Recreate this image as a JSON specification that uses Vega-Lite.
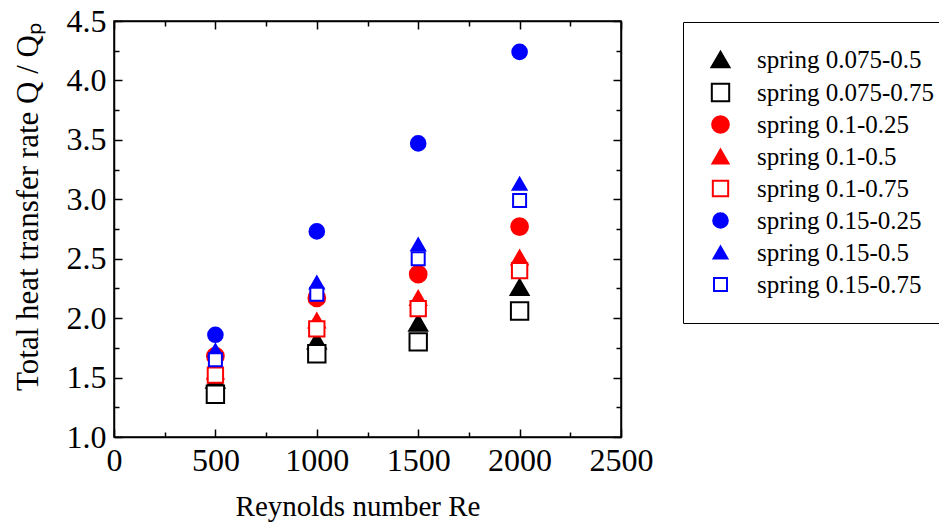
{
  "$schema": "https://vega.github.io/schema/vega-lite/v6.json",
  "autosize": {"type": "none"},
  "width": 507,
  "height": 416,
  "padding": {"left": 114, "top": 21, "right": 318, "bottom": 86},
  "background": "white",
  "config": {
    "view": {"stroke": "black", "strokeWidth": 1.5},
    "font": "Liberation Serif",
    "axis": {
      "grid": false,
      "domainColor": "black",
      "domainWidth": 1.5,
      "tickColor": "black",
      "tickWidth": 1.5,
      "labelColor": "black",
      "titleColor": "black",
      "labelFont": "Liberation Serif",
      "titleFont": "Liberation Serif",
      "labelFontSize": 32,
      "titleFontSize": 29,
      "titleFontWeight": "normal"
    }
  },
  "data": {
    "values": [
      {"Re": 500, "Q": 1.48, "series": "spring 0.075-0.5"},
      {"Re": 1000, "Q": 1.81, "series": "spring 0.075-0.5"},
      {"Re": 1500, "Q": 1.96, "series": "spring 0.075-0.5"},
      {"Re": 2000, "Q": 2.26, "series": "spring 0.075-0.5"},
      {"Re": 500, "Q": 1.36, "series": "spring 0.075-0.75"},
      {"Re": 1000, "Q": 1.70, "series": "spring 0.075-0.75"},
      {"Re": 1500, "Q": 1.80, "series": "spring 0.075-0.75"},
      {"Re": 2000, "Q": 2.06, "series": "spring 0.075-0.75"},
      {"Re": 500, "Q": 1.68, "series": "spring 0.1-0.25"},
      {"Re": 1000, "Q": 2.17, "series": "spring 0.1-0.25"},
      {"Re": 1500, "Q": 2.37, "series": "spring 0.1-0.25"},
      {"Re": 2000, "Q": 2.77, "series": "spring 0.1-0.25"},
      {"Re": 500, "Q": 1.55, "series": "spring 0.1-0.5"},
      {"Re": 1000, "Q": 1.98, "series": "spring 0.1-0.5"},
      {"Re": 1500, "Q": 2.17, "series": "spring 0.1-0.5"},
      {"Re": 2000, "Q": 2.51, "series": "spring 0.1-0.5"},
      {"Re": 500, "Q": 1.52, "series": "spring 0.1-0.75"},
      {"Re": 1000, "Q": 1.91, "series": "spring 0.1-0.75"},
      {"Re": 1500, "Q": 2.08, "series": "spring 0.1-0.75"},
      {"Re": 2000, "Q": 2.40, "series": "spring 0.1-0.75"},
      {"Re": 500, "Q": 1.86, "series": "spring 0.15-0.25"},
      {"Re": 1000, "Q": 2.73, "series": "spring 0.15-0.25"},
      {"Re": 1500, "Q": 3.47, "series": "spring 0.15-0.25"},
      {"Re": 2000, "Q": 4.24, "series": "spring 0.15-0.25"},
      {"Re": 500, "Q": 1.73, "series": "spring 0.15-0.5"},
      {"Re": 1000, "Q": 2.30, "series": "spring 0.15-0.5"},
      {"Re": 1500, "Q": 2.62, "series": "spring 0.15-0.5"},
      {"Re": 2000, "Q": 3.13, "series": "spring 0.15-0.5"},
      {"Re": 500, "Q": 1.65, "series": "spring 0.15-0.75"},
      {"Re": 1000, "Q": 2.20, "series": "spring 0.15-0.75"},
      {"Re": 1500, "Q": 2.50, "series": "spring 0.15-0.75"},
      {"Re": 2000, "Q": 2.99, "series": "spring 0.15-0.75"}
    ]
  },
  "layer": [
    {
      "mark": {"type": "point", "strokeWidth": 2, "opacity": 1},
      "encoding": {
        "x": {
          "field": "Re", "type": "quantitative",
          "scale": {"domain": [0, 2500], "nice": false, "zero": false},
          "axis": {
            "orient": "bottom",
            "title": "Reynolds number Re",
            "values": [0, 250, 500, 750, 1000, 1250, 1500, 1750, 2000, 2250, 2500],
            "labelExpr": "datum.value % 500 === 0 ? format(datum.value, 'd') : ''",
            "tickSize": {"condition": {"test": "datum.value % 500 === 0", "value": -8}, "value": -5},
            "labelPadding": 16,
            "titleFontSize": 29,
            "titleBaseline": "alphabetic",
            "titleY": 78,
            "titleX": 243.5,
            "labelFlush": false
          }
        },
        "y": {
          "field": "Q", "type": "quantitative",
          "scale": {"domain": [1, 4.5], "nice": false, "zero": false},
          "axis": {
            "orient": "left",
            "title": "Total heat transfer rate Q / Qₚ",
            "values": [1, 1.25, 1.5, 1.75, 2, 2.25, 2.5, 2.75, 3, 3.25, 3.5, 3.75, 4, 4.25, 4.5],
            "labelExpr": "abs(datum.value * 2 - round(datum.value * 2)) < 0.001 ? format(datum.value, '.1f') : ''",
            "tickSize": {"condition": {"test": "abs(datum.value * 2 - round(datum.value * 2)) < 0.001", "value": -8}, "value": -5},
            "labelPadding": 16,
            "titleFontSize": 31,
            "titleBaseline": "alphabetic",
            "titleAngle": -90,
            "titleAlign": "center",
            "titleX": -77,
            "titleY": 185.5,
            "labelFlush": false
          }
        },
        "shape": {
          "field": "series", "type": "nominal",
          "scale": {
            "domain": ["spring 0.075-0.5", "spring 0.075-0.75", "spring 0.1-0.25", "spring 0.1-0.5", "spring 0.1-0.75", "spring 0.15-0.25", "spring 0.15-0.5", "spring 0.15-0.75"],
            "range": ["triangle-up", "square", "circle", "triangle-up", "square", "circle", "triangle-up", "square"]
          },
          "legend": {
            "orient": "none",
            "legendX": 569,
            "legendY": 1,
            "title": null,
            "strokeColor": "black",
            "padding": 25,
            "labelFont": "Liberation Serif",
            "labelFontSize": 25,
            "labelColor": "black",
            "labelOffset": 24,
            "labelLimit": 400,
            "rowPadding": 6,
            "symbolStrokeWidth": 2
          }
        },
        "stroke": {
          "field": "series", "type": "nominal",
          "scale": {
            "domain": ["spring 0.075-0.5", "spring 0.075-0.75", "spring 0.1-0.25", "spring 0.1-0.5", "spring 0.1-0.75", "spring 0.15-0.25", "spring 0.15-0.5", "spring 0.15-0.75"],
            "range": ["#000000", "#000000", "#ff0000", "#ff0000", "#ff0000", "#0000ff", "#0000ff", "#0000ff"]
          }
        },
        "fill": {
          "field": "series", "type": "nominal",
          "scale": {
            "domain": ["spring 0.075-0.5", "spring 0.075-0.75", "spring 0.1-0.25", "spring 0.1-0.5", "spring 0.1-0.75", "spring 0.15-0.25", "spring 0.15-0.5", "spring 0.15-0.75"],
            "range": ["#000000", "#ffffff", "#ff0000", "#ff0000", "#ffffff", "#0000ff", "#0000ff", "#ffffff"]
          }
        },
        "size": {
          "field": "series", "type": "nominal",
          "scale": {
            "domain": ["spring 0.075-0.5", "spring 0.075-0.75", "spring 0.1-0.25", "spring 0.1-0.5", "spring 0.1-0.75", "spring 0.15-0.25", "spring 0.15-0.5", "spring 0.15-0.75"],
            "range": [324, 169, 324, 324, 169, 324, 324, 169]
          }
        }
      }
    },
    {
      "mark": {"type": "point", "opacity": 0},
      "encoding": {
        "x": {
          "field": "Re", "type": "quantitative",
          "axis": {
            "orient": "top",
            "title": null,
            "values": [0, 250, 500, 750, 1000, 1250, 1500, 1750, 2000, 2250, 2500],
            "labels": false,
            "tickSize": {"condition": {"test": "datum.value % 500 === 0", "value": -8}, "value": -5}
          }
        },
        "y": {
          "field": "Q", "type": "quantitative",
          "axis": {
            "orient": "right",
            "title": null,
            "values": [1, 1.25, 1.5, 1.75, 2, 2.25, 2.5, 2.75, 3, 3.25, 3.5, 3.75, 4, 4.25, 4.5],
            "labels": false,
            "tickSize": {"condition": {"test": "abs(datum.value * 2 - round(datum.value * 2)) < 0.001", "value": -8}, "value": -5}
          }
        }
      }
    }
  ],
  "resolve": {"axis": {"x": "independent", "y": "independent"}}
}
